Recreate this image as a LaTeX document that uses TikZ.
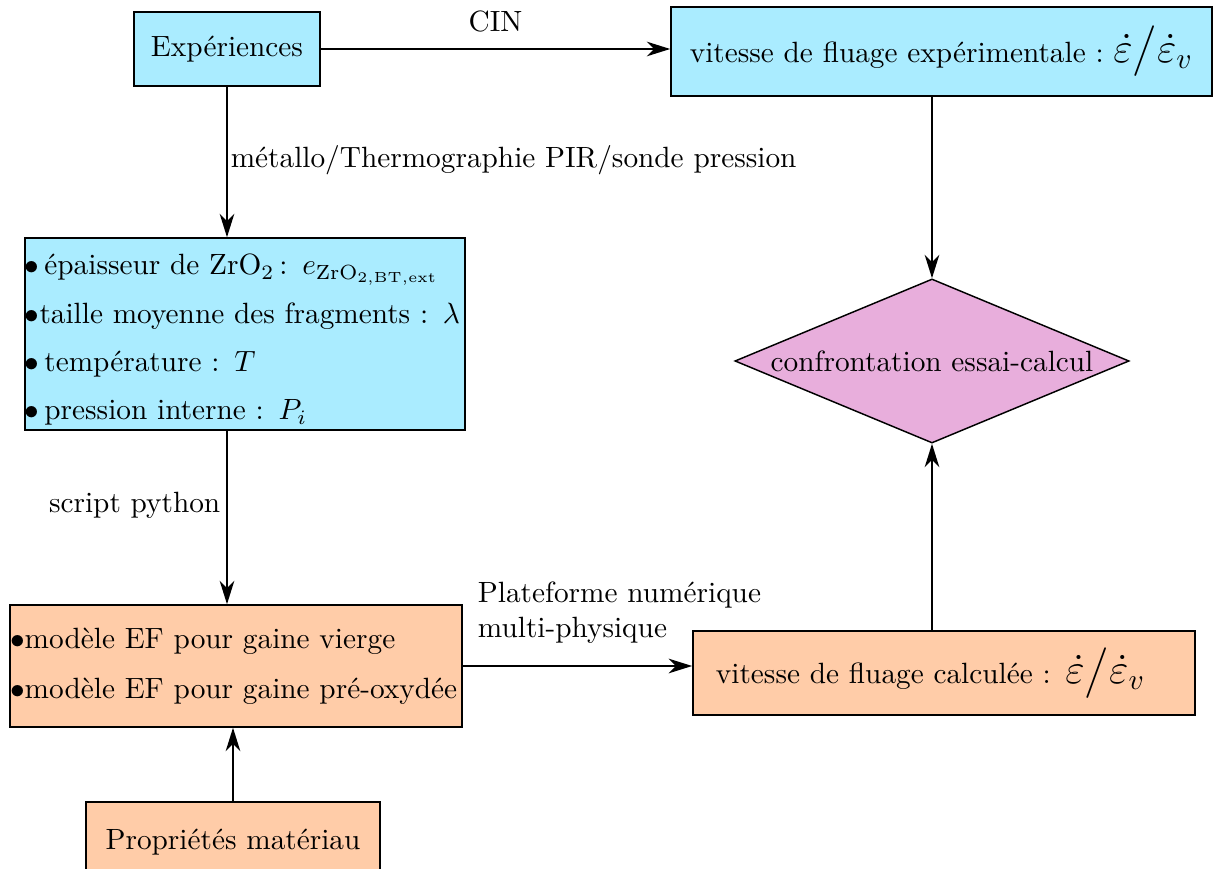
\documentclass[tikz,border=0pt]{standalone}
\usepackage{amsmath}
\usepackage{tikz}
\usetikzlibrary{shapes.geometric,arrows.meta}
\definecolor{essaiblue}{RGB}{170,236,255}
\definecolor{calcpeach}{RGB}{255,204,168}
\definecolor{confrontpink}{RGB}{232,174,220}

\begin{document}
\begin{tikzpicture}[x=0.012cm, y=-0.012cm,
    boite/.style={draw, line width=0.5pt},
    fleche/.style={-{Stealth[length=8pt,width=5pt,inset=2.5pt]}, line width=0.6pt}]
        \useasboundingbox (0,0) rectangle (1215,869);
        \node[boite, fill=essaiblue, minimum width=2.232cm, minimum height=0.888cm] (exp) at (227,49) {Expériences};
        \node[boite, fill=essaiblue, minimum width=6.49cm, minimum height=1.068cm, inner ysep=1pt] (vexp) at (941.5,51.5)
          {vitesse de fluage expérimentale :\ {\Large$\dot{\varepsilon}\big/\dot{\varepsilon}_v$}};
        \node[boite, fill=essaiblue, minimum height=2.304cm, text width=5.28cm, inner xsep=0pt, inner ysep=1pt, align=left] (mesures) at (245,334)
          {\rule{0pt}{11pt}$\bullet$\,épaisseur de ZrO$_2$\,: $e_{\mathrm{ZrO_{2,BT,ext}}}$\\[4.5pt]
           $\bullet$taille moyenne des fragments : $\lambda$\\[4.5pt]
           $\bullet$\,température : $T$\\[4.5pt]
           $\bullet$\,pression interne : $P_i$};
        \node[boite, fill=calcpeach, minimum height=1.464cm, text width=5.42cm, inner xsep=0pt, align=left] (modele) at (236,666)
          {$\bullet$modèle EF pour gaine vierge\\[5pt]
           $\bullet$modèle EF pour gaine pré-oxydée};
        \node[boite, fill=calcpeach, minimum width=3.528cm, minimum height=0.96cm] (props) at (233,842) {Propriétés matériau};
        \node[boite, fill=calcpeach, minimum height=1.008cm, text width=5.47cm, inner xsep=0.277cm, inner ysep=1pt, align=left] (vcalc) at (944,673)
          {vitesse de fluage calculée : {\Large$\dot{\varepsilon}\big/\dot{\varepsilon}_v$}};
        \node[boite, fill=confrontpink, diamond, inner sep=0pt, aspect=2.4, minimum width=4.728cm, minimum height=1.968cm] (confront) at (932,361)
          {confrontation essai-calcul};

        \draw[fleche] (exp.east) -- node[above, pos=0.5, yshift=2pt] {CIN} (exp.east -| vexp.west);
        \draw[fleche] (exp.south) -- node[right, pos=0.49, inner xsep=1pt] {métallo/Thermographie PIR/sonde pression} (exp.south |- mesures.north);
        \draw[fleche] (exp.south |- mesures.south) -- node[left, pos=0.43, inner xsep=2pt] {script python} (exp.south |- modele.north);
        \draw[fleche] (props.north) -- (props.north |- modele.south);
        \draw[fleche] (modele.east) -- node[above right, pos=0.02, align=left, yshift=4pt] {Plateforme numérique\\ multi-physique} (modele.east -| vcalc.west);
        \draw[fleche] (confront.north |- vexp.south) -- (confront.north);
        \draw[fleche] (confront.south |- vcalc.north) -- (confront.south);
\end{tikzpicture}
\end{document}
